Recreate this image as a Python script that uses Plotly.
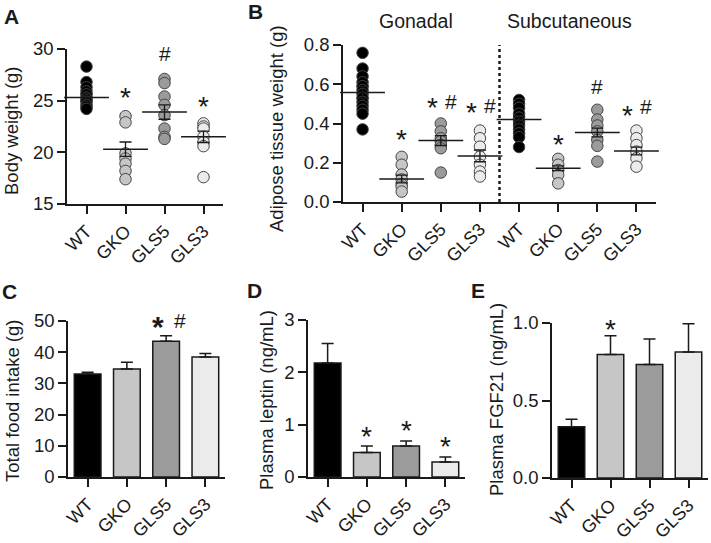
import plotly.graph_objects as go

groups = ["WT", "GKO", "GLS5", "GLS3"]
colors = ["#000000", "#c6c6c6", "#9b9b9b", "#ebebeb"]

# Panel A: body weight (g)
a_pts = [
    [28.3, 26.8, 26.3, 25.9, 25.6, 25.3, 25.1, 24.9, 24.6, 24.4, 24.2],
    [23.5, 22.9, 19.9, 19.4, 18.9, 18.2, 17.4],
    [27.1, 26.7, 25.4, 24.6, 23.6, 22.3, 21.5, 21.3],
    [22.8, 22.5, 22.3, 21.5, 21.0, 20.6, 17.6],
]
a_mean = [25.3, 20.3, 23.9, 21.5]
a_sem = [0.35, 0.7, 0.7, 0.55]

# Panel B: adipose tissue weight (g) gonadal + subcutaneous
b_gon_pts = [
    [0.76, 0.68, 0.64, 0.61, 0.59, 0.57, 0.55, 0.53, 0.51, 0.49, 0.47, 0.45, 0.37],
    [0.23, 0.19, 0.14, 0.115, 0.09, 0.078, 0.053],
    [0.40, 0.36, 0.325, 0.31, 0.29, 0.274, 0.15],
    [0.364, 0.325, 0.282, 0.231, 0.19, 0.155, 0.13],
]
b_gon_mean = [0.558, 0.117, 0.313, 0.235]
b_gon_sem = [0.03, 0.02, 0.025, 0.03]
b_sub_pts = [
    [0.52, 0.50, 0.48, 0.45, 0.43, 0.41, 0.39, 0.37, 0.35, 0.33, 0.28],
    [0.22, 0.19, 0.163, 0.138, 0.095],
    [0.47, 0.42, 0.39, 0.36, 0.316, 0.286, 0.206],
    [0.364, 0.325, 0.29, 0.257, 0.223, 0.18],
]
b_sub_mean = [0.42, 0.172, 0.354, 0.26]
b_sub_sem = [0.02, 0.012, 0.022, 0.02]

# Panel C: total food intake (g)
c_mean = [33.0, 34.6, 43.5, 38.5]
c_err = [0.6, 2.2, 1.8, 1.1]
# Panel D: plasma leptin (ng/mL)
d_mean = [2.18, 0.47, 0.59, 0.287]
d_err = [0.37, 0.12, 0.10, 0.093]
# Panel E: plasma FGF21 (ng/mL)
e_mean = [0.331, 0.796, 0.733, 0.813]
e_err = [0.048, 0.122, 0.164, 0.182]

FONT = "Liberation Sans, Arial, sans-serif"
INK = "#1a1a1a"
W, H = 711, 543

fig = go.Figure()

def dx(px0, px1):
    return [px0 / W, px1 / W]

def dy(top, bottom):
    return [1 - bottom / H, 1 - top / H]

def add_scatter_group(xs, pts, means, sems, xa, ya):
    for x, vals, col in zip(xs, pts, colors):
        fig.add_trace(go.Scatter(
            x=[x] * len(vals), y=vals, mode="markers", xaxis=xa, yaxis=ya,
            marker=dict(size=11.5, color=col, line=dict(width=1, color="#444444")),
            showlegend=False, hoverinfo="skip", cliponaxis=False))
    fig.add_trace(go.Scatter(
        x=xs, y=means, mode="markers", xaxis=xa, yaxis=ya,
        marker=dict(symbol="line-ew", size=32, line=dict(width=1.5, color=INK)),
        error_y=dict(type="data", array=sems, width=6, thickness=1.3, color=INK),
        showlegend=False, hoverinfo="skip", cliponaxis=False))

def add_bars(means, errs, xa, ya):
    fig.add_trace(go.Bar(
        x=list(range(4)), y=means, xaxis=xa, yaxis=ya, width=0.68,
        marker=dict(color=colors, line=dict(width=1.5, color=INK)),
        error_y=dict(type="data", array=errs, arrayminus=[0] * 4, symmetric=False,
                     width=6, thickness=1.5, color=INK),
        showlegend=False, hoverinfo="skip", cliponaxis=False))

# A
add_scatter_group([0, 1, 2, 3], a_pts, a_mean, a_sem, "x", "y")
# B
add_scatter_group([0, 1, 2, 3], b_gon_pts, b_gon_mean, b_gon_sem, "x2", "y2")
add_scatter_group([4, 5, 6, 7], b_sub_pts, b_sub_mean, b_sub_sem, "x2", "y2")
# C, D, E
add_bars(c_mean, c_err, "x3", "y3")
add_bars(d_mean, d_err, "x4", "y4")
add_bars(e_mean, e_err, "x5", "y5")

axis_common = dict(showline=True, linecolor=INK, linewidth=1.5, ticks="outside",
                   ticklen=8, tickwidth=1.5, tickcolor=INK, showgrid=False,
                   zeroline=False, automargin=False,
                   tickfont=dict(family=FONT, size=18.5, color=INK))

def xaxis(domain, anchor, n=4):
    return dict(axis_common, domain=domain, anchor=anchor, range=[-0.5, n - 0.5],
                tickvals=list(range(n)), ticktext=(groups * (n // 4)), tickangle=-45,
                tickfont=dict(family=FONT, size=18, color=INK))

def yaxis(domain, anchor, rng, tickvals, ticktext):
    return dict(axis_common, domain=domain, anchor=anchor, range=rng,
                tickvals=tickvals, ticktext=ticktext)

fig.update_layout(
    template="none",
    xaxis=xaxis(dx(67, 223), "y"),
    yaxis=yaxis(dy(49, 204), "x", [15, 30], [15, 20, 25, 30], ["15", "20", "25", "30"]),
    xaxis2=xaxis(dx(343, 656), "y2", n=8),
    yaxis2=yaxis(dy(45, 202), "x2", [0, 0.8], [0, 0.2, 0.4, 0.6, 0.8],
                 ["0.0", "0.2", "0.4", "0.6", "0.8"]),
    xaxis3=xaxis(dx(68, 225), "y3"),
    yaxis3=yaxis(dy(321, 477), "x3", [0, 50], [0, 10, 20, 30, 40, 50],
                 ["0", "10", "20", "30", "40", "50"]),
    xaxis4=xaxis(dx(308, 465), "y4"),
    yaxis4=yaxis(dy(320, 477), "x4", [0, 3], [0, 1, 2, 3], ["0", "1", "2", "3"]),
    xaxis5=xaxis(dx(552, 708), "y5"),
    yaxis5=yaxis(dy(323, 478), "x5", [0, 1.0], [0, 0.5, 1.0], ["0.0", "0.5", "1.0"]),
    width=W, height=H, margin=dict(l=0, r=0, t=0, b=0),
    plot_bgcolor="white", paper_bgcolor="white",
    font=dict(family=FONT, color=INK),
)

# dotted separator in B
fig.add_shape(type="line", xref="x2", yref="y2", x0=3.5, x1=3.5, y0=0, y1=0.8,
              line=dict(color=INK, width=2.5, dash="dot"))

ann = []
def paper_text(x, y, text, size, bold=False, angle=0):
    ann.append(dict(xref="paper", yref="paper", x=x / W, y=1 - y / H,
                    text=(f"<b>{text}</b>" if bold else text),
                    showarrow=False, textangle=angle, xanchor="center", yanchor="middle",
                    font=dict(family=FONT, size=size, color=INK)))

# panel letters
paper_text(11, 16, "A", 21, bold=True)
paper_text(255, 12, "B", 21, bold=True)
paper_text(9, 291, "C", 21, bold=True)
paper_text(254, 290, "D", 21, bold=True)
paper_text(478, 290, "E", 21, bold=True)

# axis titles
paper_text(12, 131, "Body weight (g)", 18.5, angle=-90)
paper_text(277, 129, "Adipose tissue weight (g)", 18.5, angle=-90)
paper_text(12, 401, "Total food intake (g)", 18.5, angle=-90)
paper_text(266, 400, "Plasma leptin (ng/mL)", 18.5, angle=-90)
paper_text(496, 400, "Plasma FGF21 (ng/mL)", 18.5, angle=-90)

# section titles in B
paper_text(416, 21, "Gonadal", 19.5)
paper_text(569, 21, "Subcutaneous", 19.5)

def star(xa, ya, x, y, size=28, bold=False, shift=-6):
    ann.append(dict(xref=xa, yref=ya, x=x, y=y, text=("<b>*</b>" if bold else "*"),
                    showarrow=False, xanchor="center", yanchor="middle", yshift=shift,
                    font=dict(family=FONT, size=size, color=INK)))

def hashm(xa, ya, x, y, size=21, shift=0):
    ann.append(dict(xref=xa, yref=ya, x=x, y=y, text="#", showarrow=False,
                    xanchor="center", yanchor="middle", yshift=shift,
                    font=dict(family=FONT, size=size, color=INK)))

# A
star("x", "y", 1, 25.9)
hashm("x", "y", 2, 29.6)
star("x", "y", 3, 25.0)
# B
star("x2", "y2", 1, 0.35)
star("x2", "y2", 1.78, 0.51)
hashm("x2", "y2", 2.25, 0.51)
star("x2", "y2", 2.78, 0.486)
hashm("x2", "y2", 3.25, 0.49)
star("x2", "y2", 5, 0.325)
hashm("x2", "y2", 6, 0.59)
star("x2", "y2", 6.78, 0.47)
hashm("x2", "y2", 7.25, 0.486)
# C (anchor kept inside the axis range, glyphs shifted up)
star("x3", "y3", 1.8, 49.5, size=30, bold=True, shift=-4)
hashm("x3", "y3", 2.35, 49.5, shift=2)
# D
star("x4", "y4", 1, 0.885)
star("x4", "y4", 2, 1.0)
star("x4", "y4", 3, 0.69)
# E
star("x5", "y5", 1, 0.99, shift=-5)

fig.update_layout(annotations=ann)
fig.write_html("out.html", config={"displayModeBar": False},
               post_script="document.body.style.margin='0';document.body.style.overflow='hidden';")
